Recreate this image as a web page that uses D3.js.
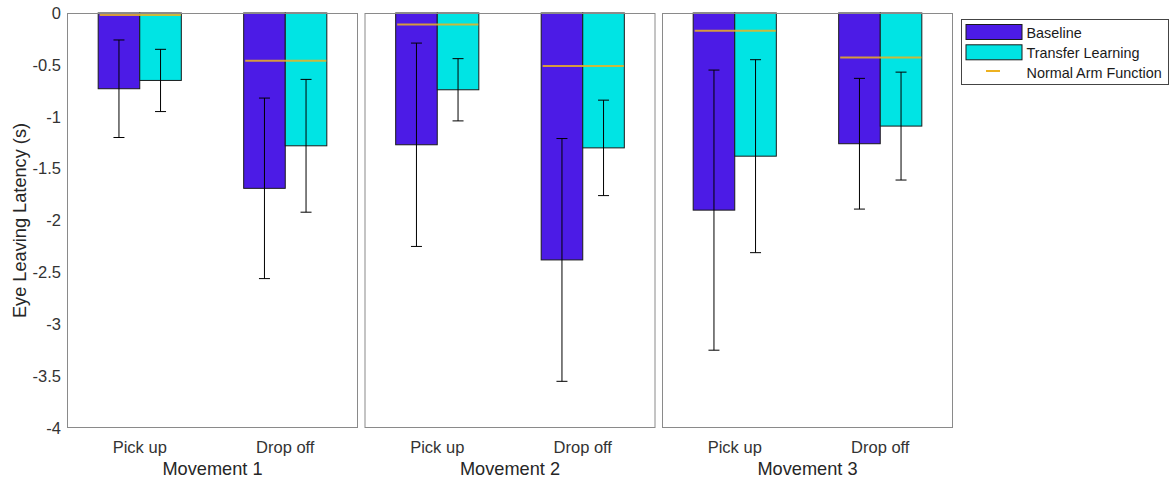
<!DOCTYPE html>
<html>
<head>
<meta charset="utf-8">
<script src="https://cdn.jsdelivr.net/npm/d3@7"></script>
<style>
  html, body { margin: 0; padding: 0; background: #fff; }
  svg { display: block; font-family: "Liberation Sans", Arial, Helvetica, sans-serif; }
</style>
</head>
<body>
<svg id="chart" width="1170" height="480"></svg>
<script>
// Eye-leaving latency per movement and phase
const movements = ["Movement 1", "Movement 2", "Movement 3"];
const phases = ["Pick up", "Drop off"];
const seriesNames = ["Baseline", "Transfer Learning"];
const normalName = "Normal Arm Function";

// means, one row per movement: [Pick up, Drop off]
const baseline = [[-0.73, -1.69], [-1.27, -2.38], [-1.90, -1.26]];
const transfer = [[-0.65, -1.28], [-0.74, -1.30], [-1.38, -1.09]];
// error bar half-lengths
const baselineErr = [[0.47, 0.87], [0.98, 1.17], [1.35, 0.63]];
const transferErr = [[0.30, 0.64], [0.30, 0.46], [0.93, 0.52]];
// reference level from normal arm function
const normal = [[-0.02, -0.46], [-0.11, -0.51], [-0.17, -0.43]];

const yTicks = [0, -0.5, -1, -1.5, -2, -2.5, -3, -3.5, -4];

const colors = { "Baseline": "#4c1be6", "Transfer Learning": "#00e4e4" };
const normalColor = "#edb120";

const svg = d3.select("#chart");

const plotTop = 13, plotBottom = 428;
const panelLeft = 67, panelW = 291, panelStep = 297.5;

const y = d3.scaleLinear().domain([-4, 0]).range([plotBottom, plotTop]);

const panelScale = d3.scaleBand().domain(movements)
  .range([panelLeft, panelLeft + panelStep * movements.length]).paddingInner(0).paddingOuter(0);

const textColor = "#333";

movements.forEach((mv, mi) => {
  const x0 = panelScale(mv);
  const x = d3.scaleBand().domain(phases).range([x0, x0 + panelW]).padding(0);
  const groupW = x.bandwidth() * (2 / 3.5);
  const xs = d3.scaleBand().domain(seriesNames).range([-groupW / 2, groupW / 2]).padding(0);

  const g = svg.append("g");

  // white plot area
  g.append("rect").attr("x", x0).attr("y", plotTop).attr("width", panelW).attr("height", plotBottom - plotTop)
    .attr("fill", "#fff");

  const rows = [];
  phases.forEach((ph, pi) => {
    rows.push({ ph, s: "Baseline", v: baseline[mi][pi], e: baselineErr[mi][pi] });
    rows.push({ ph, s: "Transfer Learning", v: transfer[mi][pi], e: transferErr[mi][pi] });
  });

  // bars
  g.selectAll("rect.bar").data(rows).join("rect")
    .attr("class", "bar")
    .attr("x", d => x(d.ph) + x.bandwidth() / 2 + xs(d.s))
    .attr("y", d => y(0))
    .attr("width", xs.bandwidth())
    .attr("height", d => y(d.v) - y(0))
    .attr("fill", d => colors[d.s])
    .attr("stroke", "#1a1a1a")
    .attr("stroke-width", 1);

  // normal arm function level across each group
  g.selectAll("line.normal").data(phases).join("line")
    .attr("class", "normal")
    .attr("x1", ph => x(ph) + x.bandwidth() / 2 - groupW / 2 + 1.5)
    .attr("x2", ph => x(ph) + x.bandwidth() / 2 + groupW / 2 - 0.5)
    .attr("y1", (ph, i) => y(normal[mi][i]))
    .attr("y2", (ph, i) => y(normal[mi][i]))
    .attr("stroke", normalColor)
    .attr("stroke-opacity", 0.85)
    .attr("stroke-width", 2);

  // error bars
  const cx = d => x(d.ph) + x.bandwidth() / 2 + xs(d.s) + xs.bandwidth() / 2;
  const eb = g.selectAll("g.err").data(rows).join("g").attr("class", "err")
    .attr("stroke", "#000").attr("stroke-width", 1);
  eb.append("line").attr("x1", cx).attr("x2", cx)
    .attr("y1", d => y(d.v + d.e)).attr("y2", d => y(d.v - d.e));
  eb.append("line").attr("x1", d => cx(d) - 5.5).attr("x2", d => cx(d) + 5.5)
    .attr("y1", d => y(d.v + d.e)).attr("y2", d => y(d.v + d.e));
  eb.append("line").attr("x1", d => cx(d) - 5.5).attr("x2", d => cx(d) + 5.5)
    .attr("y1", d => y(d.v - d.e)).attr("y2", d => y(d.v - d.e));

  // frame
  g.append("rect").attr("x", x0 + 0.5).attr("y", plotTop + 0.5).attr("width", panelW - 1).attr("height", plotBottom - plotTop - 1)
    .attr("fill", "none").attr("stroke", "#8a8a8a").attr("stroke-width", 1);

  // x tick labels
  const xAxis = d3.axisBottom(x).tickSize(0).tickPadding(0);
  const xg = g.append("g").attr("transform", `translate(0,${plotBottom})`).call(xAxis);
  xg.select(".domain").remove();
  xg.selectAll("text").attr("dy", null).attr("y", 24.5)
    .attr("font-size", 16.5).attr("fill", textColor)
    .style("font-family", "'Liberation Sans', Arial, sans-serif");

  // movement label
  g.append("text").attr("x", x0 + panelW / 2).attr("y", 474.5).attr("text-anchor", "middle")
    .attr("font-size", 18.2).attr("fill", "#262626").text(mv);

  // y axis on the first panel only
  if (mi === 0) {
    const yAxis = d3.axisLeft(y).tickValues(yTicks).tickSize(0).tickPadding(6)
      .tickFormat(d => String(d));
    const yg = g.append("g").attr("transform", `translate(${x0},0)`).call(yAxis);
    yg.select(".domain").remove();
    yg.selectAll("text").attr("font-size", 16.5).attr("fill", textColor)
      .style("font-family", "'Liberation Sans', Arial, sans-serif");
  }
});

// y axis title
svg.append("text")
  .attr("transform", `translate(25.5,${(plotTop + plotBottom) / 2}) rotate(-90)`)
  .attr("text-anchor", "middle").attr("font-size", 18.2).attr("fill", "#262626")
  .text("Eye Leaving Latency (s)");

// legend
const lg = svg.append("g").attr("transform", "translate(961,19)");
lg.append("rect").attr("x", 0.5).attr("y", 0.5).attr("width", 207).attr("height", 65)
  .attr("fill", "#fff").attr("stroke", "#444").attr("stroke-width", 1);
seriesNames.forEach((s, i) => {
  lg.append("rect").attr("x", 5).attr("y", 5.5 + i * 20.3).attr("width", 56).attr("height", 15)
    .attr("fill", colors[s]).attr("stroke", "#1a1a1a");
  lg.append("text").attr("x", 65.5).attr("y", 18.5 + i * 20.3).attr("font-size", 14.4)
    .attr("fill", "#1a1a1a").text(s);
});
lg.append("line").attr("x1", 25).attr("x2", 39).attr("y1", 52).attr("y2", 52)
  .attr("stroke", normalColor).attr("stroke-width", 2);
lg.append("text").attr("x", 65.5).attr("y", 59).attr("font-size", 14.4)
  .attr("fill", "#1a1a1a").text(normalName);
</script>
</body>
</html>
